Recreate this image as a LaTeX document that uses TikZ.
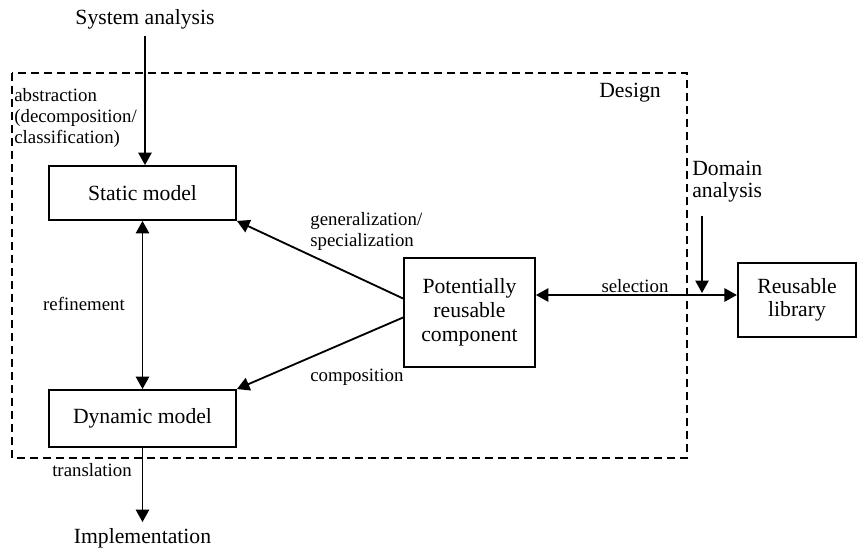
\documentclass[tikz,border=0pt]{standalone}
\usepackage{fontspec}
\setmainfont{Liberation Serif}
\usetikzlibrary{arrows.meta}

\begin{document}
\begin{tikzpicture}[x=0.6pt,y=-0.6pt,
  font=\fontsize{13}{14.4}\selectfont,
  box/.style={draw,line width=1.1pt,align=center,inner sep=2pt},
  lbl/.style={font=\fontsize{11.3}{12.6}\selectfont},
  arr/.style={line width=1.1pt,-{Triangle[length=7.5pt,width=8pt]}},
  darr/.style={line width=1.1pt,{Triangle[length=7.5pt,width=8pt]}-{Triangle[length=7.5pt,width=8pt]}}]
\useasboundingbox (0,0) rectangle (857,554);

% design frame
\draw[line width=1.3pt,dash pattern=on 4.8pt off 3pt] (12,73) rectangle (687,458);
\draw (630,98) node (design) [anchor=base] {Design};

\draw (145,25)    node (sys)    [anchor=base] {System analysis};
\draw (14,88)     node (abstr)  [lbl,anchor=north west,inner sep=0pt,align=left] {abstraction\\(decomposition/\\classification)};

\draw (142.5,193) node (static) [box,minimum width=112.2pt,minimum height=32.4pt] {Static model};
\draw[arr] (sys.south) -- (sys.south |- static.north);

\draw (84,310)    node (refine) [lbl,anchor=base] {refinement};
\draw (142.5,418.5) node (dynamic) [box,minimum width=112.2pt,minimum height=34.2pt] {Dynamic model};
\draw[darr] (static.south) -- (dynamic.north);

\draw (469.5,312.5) node (comp) [box,minimum width=78.6pt,minimum height=65.4pt,font=\fontsize{13}{14.4}\selectfont] {Potentially\\reusable\\component};
\draw (310,212)   node (gen)    [lbl,anchor=north west,inner sep=0pt,align=left] {generalization/\\specialization};
\draw (310,381)   node (compos) [lbl,anchor=base west,inner sep=0pt] {composition};
\draw[arr] ([yshift=8.4pt]comp.west) -- (static.south east);
\draw[arr] ([yshift=-3pt]comp.west) -- (dynamic.north east);

\draw (797,300)   node (lib)    [box,minimum width=71pt,minimum height=44.4pt,font=\fontsize{13}{13.8}\selectfont] {Reusable\\library};
\draw (635,292)   node (sel)    [lbl,anchor=base] {selection};
\path (lib.west) ++(0,-5) coordinate (s2);
\draw[darr] (comp.east |- s2) -- (s2);

\draw (692,208)   node (dom)    [anchor=south west,inner xsep=0pt,inner ysep=3.2pt,align=left,font=\fontsize{13}{13.2}\selectfont] {Domain\\analysis};
\coordinate (dtip) at (702,293);
\draw[arr] ([yshift=-4.8pt]dom.south -| dtip) -- (dtip);

\draw (92,476)    node (trans)  [lbl,anchor=base] {translation};
\draw (142.5,543) node (impl)   [anchor=base] {Implementation};
\draw[arr] (dynamic.south) -- (dynamic.south |- impl.north);

\end{tikzpicture}
\end{document}
